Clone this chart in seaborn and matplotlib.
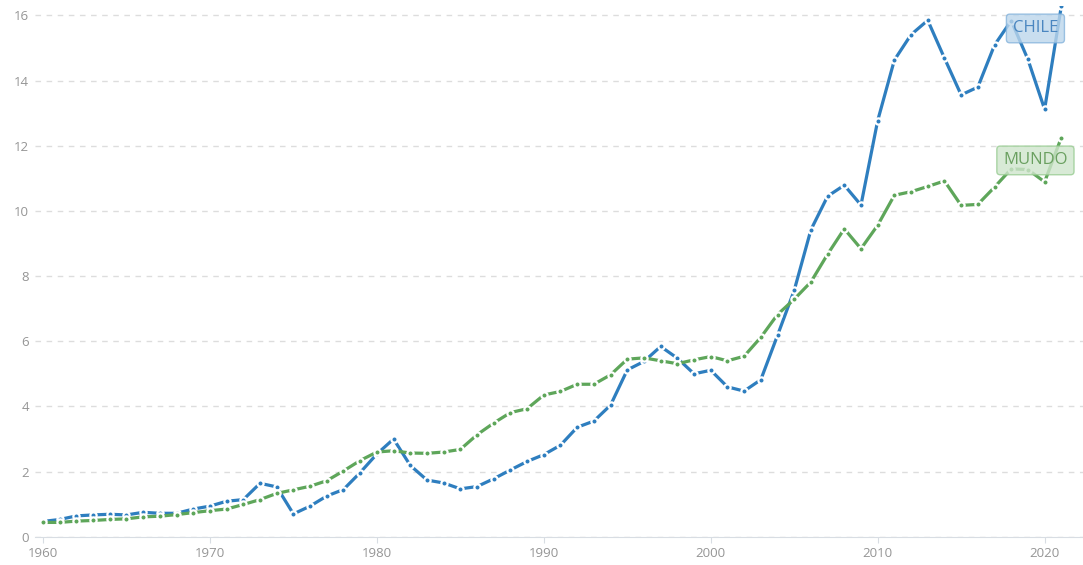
import numpy as np
import pandas as pd
import matplotlib.pyplot as plt
import seaborn as sns

years = list(range(1960, 2022))

chile = [0.47, 0.53, 0.64, 0.67, 0.69, 0.67, 0.75, 0.72, 0.72, 0.85,
         0.94, 1.09, 1.14, 1.64, 1.53, 0.70, 0.94, 1.25, 1.45, 1.97,
         2.54, 3.00, 2.19, 1.74, 1.65, 1.47, 1.54, 1.78, 2.05, 2.31,
         2.52, 2.81, 3.36, 3.55, 4.04, 5.12, 5.38, 5.84, 5.48, 5.00,
         5.11, 4.60, 4.47, 4.82, 6.18, 7.56, 9.42, 10.45, 10.79, 10.18,
         12.77, 14.63, 15.41, 15.85, 14.69, 13.56, 13.80, 15.09, 15.84, 14.65,
         13.12, 16.28]

mundo = [0.44, 0.44, 0.48, 0.50, 0.53, 0.55, 0.61, 0.63, 0.68, 0.74,
         0.80, 0.85, 0.99, 1.14, 1.33, 1.44, 1.55, 1.72, 2.02, 2.34,
         2.60, 2.64, 2.57, 2.56, 2.60, 2.68, 3.13, 3.49, 3.81, 3.93,
         4.35, 4.46, 4.68, 4.68, 4.97, 5.45, 5.49, 5.40, 5.31, 5.43,
         5.53, 5.40, 5.54, 6.12, 6.82, 7.29, 7.82, 8.67, 9.45, 8.84,
         9.56, 10.48, 10.59, 10.75, 10.92, 10.17, 10.20, 10.73, 11.29, 11.27,
         10.89, 12.25]

series_names = ['CHILE', 'MUNDO']
line_colors = ['#2e7ebf', '#5ea65a']

df = pd.DataFrame({
    'year': years * 2,
    'value': chile + mundo,
    'pais': ['CHILE'] * len(years) + ['MUNDO'] * len(years),
})

sns.set_style('white')
plt.rcParams['font.family'] = ['Open Sans', 'DejaVu Sans']

fig = plt.figure(figsize=(10.83, 5.65), dpi=100)
ax = fig.add_axes([0.032, 0.05, 0.968, 0.94])

sns.lineplot(data=df, x='year', y='value', hue='pais', palette=line_colors,
             hue_order=series_names, marker='o', markersize=4.5,
             markeredgecolor='white', markeredgewidth=1.6, linewidth=2.3,
             legend=False, ax=ax, zorder=3)

ax.set_xlim(1959.5, 2022.3)
ax.set_ylim(0, 16.3)
ax.set_yticks(range(0, 17, 2))
ax.set_xticks(range(1960, 2021, 10))
ax.yaxis.grid(True, linestyle=(0, (4, 4)), color='#dddddd', linewidth=1)
ax.xaxis.grid(False)
for s in ['top', 'right', 'left']:
    ax.spines[s].set_visible(False)
ax.spines['bottom'].set_color('#d8dde3')
ax.tick_params(axis='y', length=0, labelsize=9.5, labelcolor='#959595', pad=4)
ax.tick_params(axis='x', length=4, color='#d8dde3', labelsize=9.5,
               labelcolor='#959595', bottom=True)
ax.set_xlabel('')
ax.set_ylabel('')

# series labels
label_styles = {
    'CHILE': dict(y=15.6, fc='#bcd6ec', ec='#86b4dc', tc='#4a86c0'),
    'MUNDO': dict(y=11.55, fc='#cfe5cc', ec='#98cc92', tc='#6aa060'),
}
for name in series_names:
    st = label_styles[name]
    ax.text(2019.45, st['y'], name, ha='center', va='center', fontsize=12,
            color=st['tc'], zorder=5,
            bbox=dict(boxstyle='round,pad=0.38,rounding_size=0.2',
                      fc=st['fc'], ec=st['ec'], alpha=0.8, lw=1))

fig.savefig('out.png', dpi=100)
